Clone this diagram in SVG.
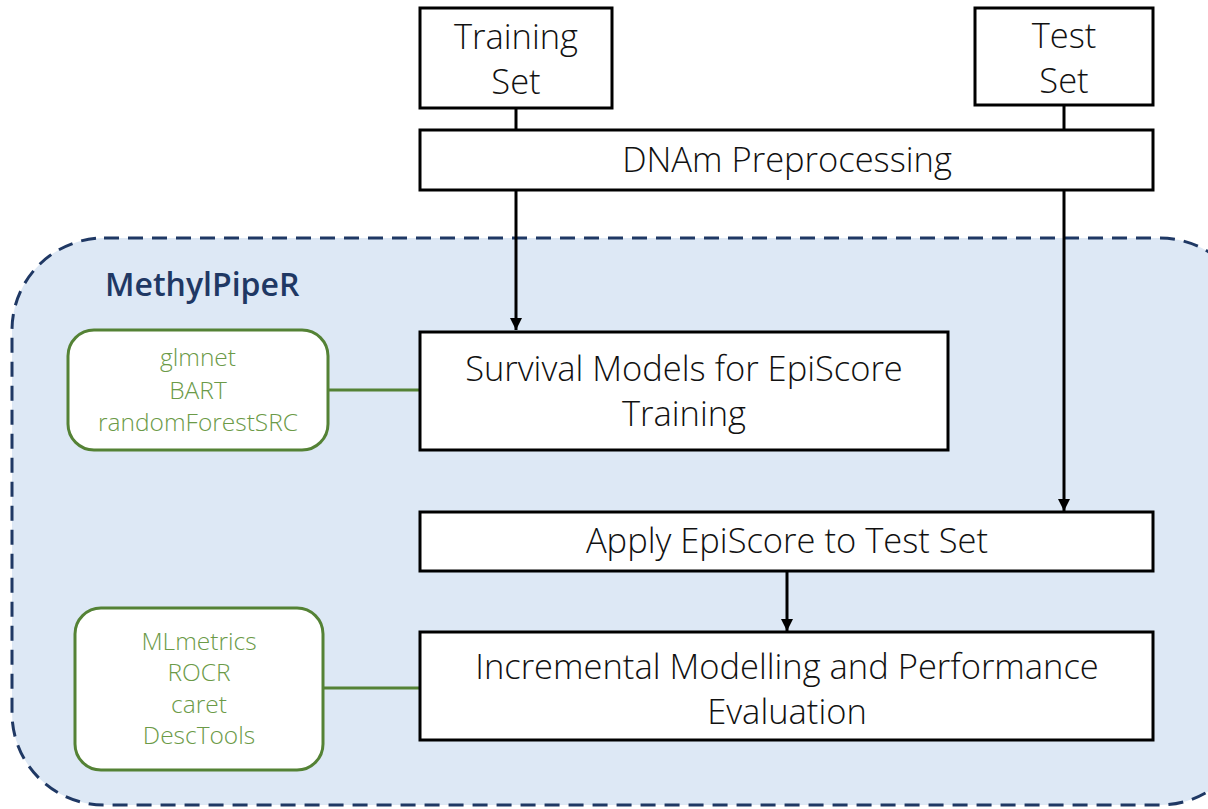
<svg xmlns="http://www.w3.org/2000/svg" width="1208" height="809" viewBox="0 0 1208 809">
<style>
.box{fill:#fff;stroke:#000;stroke-width:3}
.gbox{fill:#fff;stroke:#548235;stroke-width:3}
.t{font-family:"Open Sans","Noto Sans",sans-serif;font-size:34.5px;font-weight:300;fill:#111;text-anchor:middle}
.g{font-family:"Open Sans","Noto Sans",sans-serif;font-size:24.5px;font-weight:300;fill:#6b9a47;text-anchor:middle}
.c{stroke:#000;stroke-width:3;fill:none}
.gl{stroke:#548235;stroke-width:3;fill:none}
</style>
<defs>
<marker id="ah" viewBox="0 0 10 10" refX="10" refY="5" markerWidth="4" markerHeight="4" orient="auto" markerUnits="strokeWidth">
<path d="M0,0 L10,5 L0,10 z" fill="#000"/>
</marker>
</defs>
<rect width="1208" height="809" fill="#fff"/>
<g id="container">
<rect x="12" y="238" width="1240" height="567" rx="92" fill="#dde8f5" stroke="#1f3864" stroke-width="3" stroke-dasharray="15,9"/>
<text x="105" y="296" font-family="'Open Sans','Noto Sans',sans-serif" font-size="32" font-weight="600" fill="#1f3864">MethylPipeR</text>
</g>
<g id="connectors">
<line class="c" x1="516" y1="108" x2="516" y2="130"/>
<line class="c" x1="1064" y1="105" x2="1064" y2="130"/>
<line class="c" x1="516" y1="190" x2="516" y2="330" marker-end="url(#ah)"/>
<line class="c" x1="1064" y1="190" x2="1064" y2="511" marker-end="url(#ah)"/>
<line class="c" x1="787" y1="571" x2="787" y2="631" marker-end="url(#ah)"/>
<line class="gl" x1="328" y1="390" x2="420" y2="390"/>
<line class="gl" x1="323" y1="688" x2="420" y2="688"/>
</g>
<g id="training">
<rect class="box" x="420" y="8" width="192" height="100"/>
<text class="t" x="516" y="49">Training<tspan x="516" dy="44.5">Set</tspan></text>
</g>
<g id="test">
<rect class="box" x="975" y="8" width="178" height="97"/>
<text class="t" x="1064" y="48">Test<tspan x="1064" dy="44.5">Set</tspan></text>
</g>
<g id="dnam">
<rect class="box" x="420" y="130" width="733" height="60"/>
<text class="t" x="787" y="172">DNAm Preprocessing</text>
</g>
<g id="pkg1">
<rect class="gbox" x="68" y="330" width="260" height="120" rx="26"/>
<text class="g" x="198" y="366">glmnet<tspan x="198" dy="32.5">BART</tspan><tspan x="198" dy="32.5">randomForestSRC</tspan></text>
</g>
<g id="survival">
<rect class="box" x="420" y="332" width="528" height="118"/>
<text class="t" x="684" y="381">Survival Models for EpiScore<tspan x="684" dy="44.5">Training</tspan></text>
</g>
<g id="apply">
<rect class="box" x="420" y="512" width="733" height="59"/>
<text class="t" x="787" y="553">Apply EpiScore to Test Set</text>
</g>
<g id="pkg2">
<rect class="gbox" x="75" y="608" width="248" height="162" rx="26"/>
<text class="g" x="199" y="650">MLmetrics<tspan x="199" dy="31.3">ROCR</tspan><tspan x="199" dy="31.3">caret</tspan><tspan x="199" dy="31.3">DescTools</tspan></text>
</g>
<g id="incremental">
<rect class="box" x="420" y="632" width="733" height="108"/>
<text class="t" x="787" y="679">Incremental Modelling and Performance<tspan x="787" dy="44.5">Evaluation</tspan></text>
</g>
</svg>
